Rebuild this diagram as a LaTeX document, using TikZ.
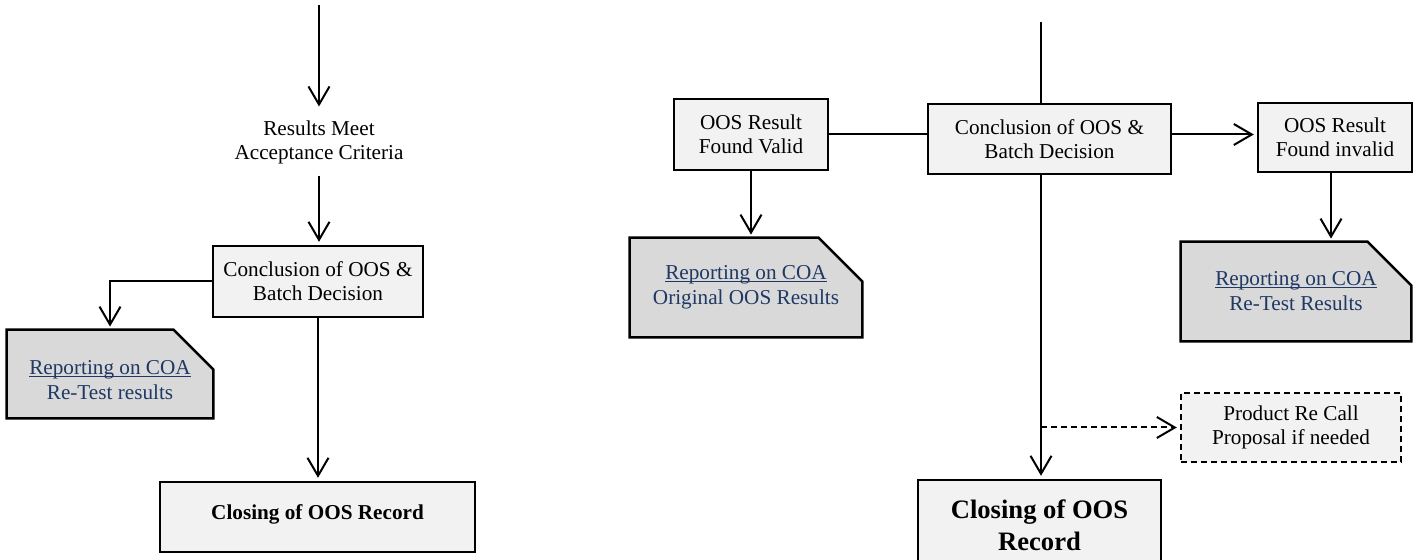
\documentclass[tikz,border=0pt]{standalone}
\usepackage{fontspec}
\setmainfont{Liberation Serif}
\usetikzlibrary{arrows.meta,calc}
\pgfdeclarelayer{background}
\pgfsetlayers{background,main}
\definecolor{boxgray}{HTML}{F2F2F2}
\definecolor{repgray}{HTML}{D9D9D9}
\definecolor{repblue}{HTML}{1F3864}
\newcommand\repul[1]{\setbox0\hbox{#1}\rlap{\rule[-1.2pt]{\wd0}{0.6pt}}\box0}
\begin{document}
\begin{tikzpicture}[x=0.5pt,y=-0.5pt,
  base/.style={font=\fontsize{10.6}{12}\selectfont, align=center, inner sep=0pt},
  procbox/.style={base, draw, line width=1.2pt, fill=boxgray},
  dashbox/.style={procbox, dash pattern=on 3pt off 2pt},
  repnode/.style={base, text=repblue, font=\fontsize{10.6}{12.5}\selectfont},
  repshape/.style={draw, line width=1.2pt, fill=repgray},
  conn/.style={line width=1pt},
  arr/.style={conn, -{Straight Barb[length=9pt,width=10.5pt]}, shorten >=1.5pt},
  darr/.style={arr, dash pattern=on 3pt off 2pt}
]
\useasboundingbox (0,0) rectangle (1419,560);

% ---------- left part ----------
\coordinate (top1) at (319,5);
\node[base, inner sep=5.5pt] (res) at (319,142.5) {Results Meet\\Acceptance Criteria};
\node[procbox, minimum width=105pt, minimum height=35.5pt] (conc1) at (318,281.5) {Conclusion of OOS \&\\Batch Decision};
\node[repnode, minimum width=103pt, minimum height=44pt] (rep1) at (110,374) {\raisebox{0pt}[13.5pt]{\repul{Reporting on COA}}\\Re-Test results};
\node[procbox, minimum width=157.5pt, minimum height=35pt] (close1) at (317.5,517) {\raisebox{5pt}{\textbf{Closing of OOS Record}}};

% ---------- right part ----------
\coordinate (top2) at (1041,22);
\node[procbox, minimum width=77pt, minimum height=35.5pt] (valid) at (751,134.5) {OOS Result\\Found Valid};
\node[procbox, minimum width=121.5pt, minimum height=35pt] (conc2) at (1049.5,139) {Conclusion of OOS \&\\Batch Decision};
\node[procbox, minimum width=77pt, minimum height=34.5pt] (inv) at (1335,137.5) {OOS Result\\Found invalid};
\node[repnode, minimum width=116pt, minimum height=49.5pt] (rep2) at (746,287.5) {\repul{Reporting on COA}\\Original OOS Results};
\node[repnode, minimum width=115pt, minimum height=49.5pt] (rep3) at (1296,291.5) {\repul{Reporting on COA}\\Re-Test Results};
\node[dashbox, minimum width=110pt, minimum height=34.5pt] (recall) at (1291,427.5) {Product Re Call\\Proposal if needed};
\node[procbox, font=\fontsize{13.3}{16}\selectfont\bfseries, minimum width=121.5pt, minimum height=45pt] (close2) at (1039.5,525) {Closing of OOS\\Record};

% chamfered report shapes
\begin{pgfonlayer}{background}
  \path[repshape] (rep1.south west) -- (rep1.north west) -- ([xshift=-20pt]rep1.north east) -- ([yshift=-20pt]rep1.north east) -- (rep1.south east) -- cycle;
  \path[repshape] (rep2.south west) -- (rep2.north west) -- ([xshift=-22pt]rep2.north east) -- ([yshift=-22pt]rep2.north east) -- (rep2.south east) -- cycle;
  \path[repshape] (rep3.south west) -- (rep3.north west) -- ([xshift=-22pt]rep3.north east) -- ([yshift=-22pt]rep3.north east) -- (rep3.south east) -- cycle;
\end{pgfonlayer}

% ---------- connectors left ----------
\draw[arr] (top1) -- (res.north);
\draw[arr] (res.south) -- (res.south |- conc1.north);
\draw[arr] (conc1.west) -| (rep1.north);
\draw[arr] (conc1.south) -- (conc1.south |- close1.north);

% ---------- connectors right ----------
\draw[conn] (top2) -- (top2 |- conc2.north);
\draw[conn] (valid.east) -- (valid.east -| conc2.west);
\draw[arr] (conc2.east |- valid.east) -- (inv.west |- valid.east);
\draw[arr] (valid.south) -- (valid.south |- rep2.north);
\draw[arr] ([xshift=-2pt]inv.south) -- ([xshift=-2pt]inv.south |- rep3.north);
\draw[arr] (top2 |- conc2.south) -- (top2 |- close2.north);
\draw[darr] (top2 |- recall.west) -- (recall.west);
\end{tikzpicture}
\end{document}
